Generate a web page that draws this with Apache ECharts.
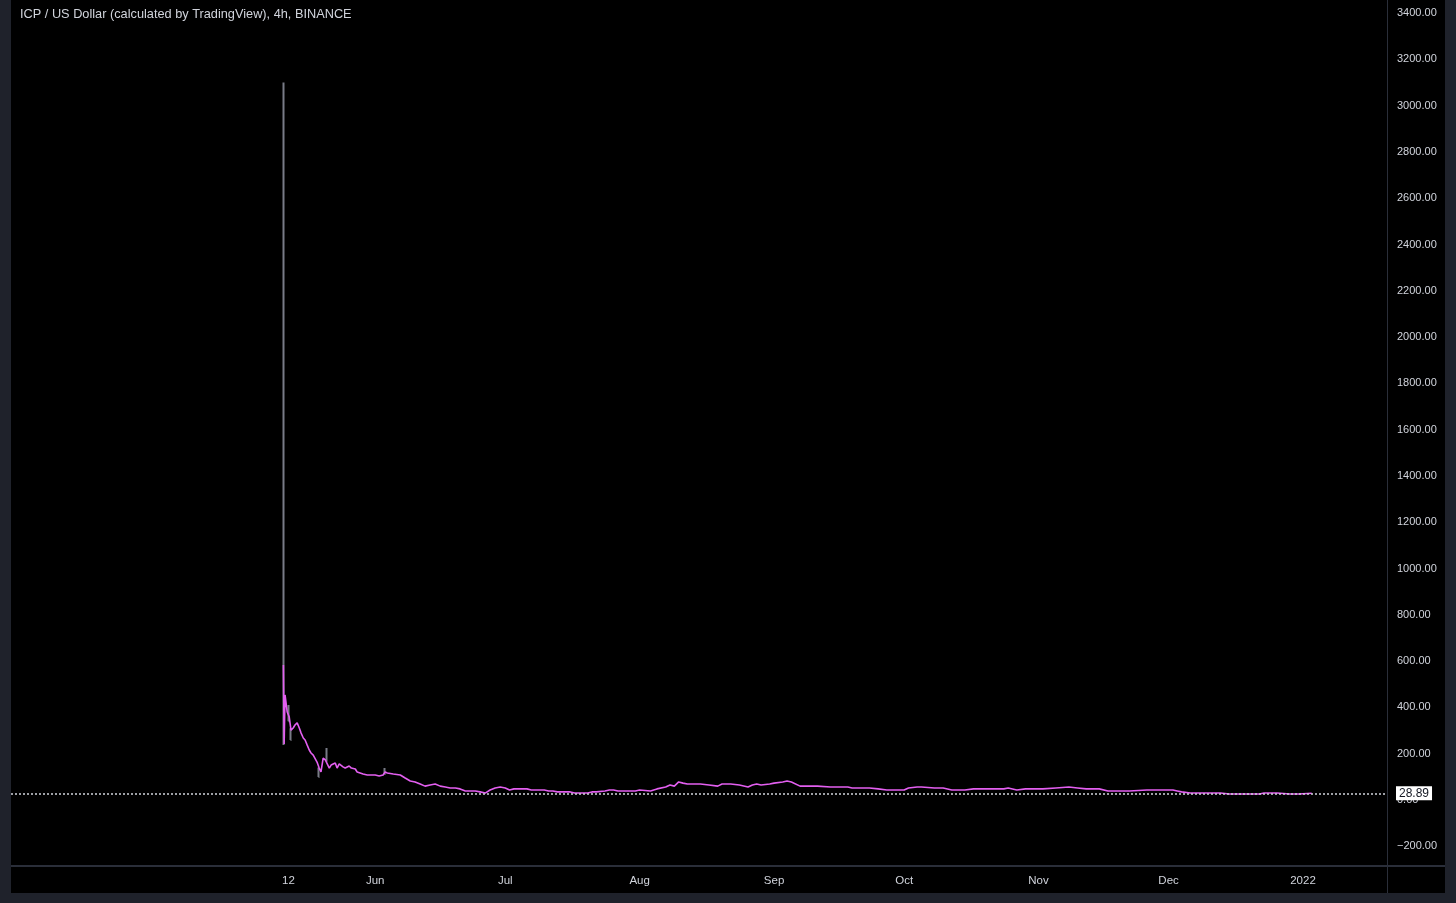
<!DOCTYPE html>
<html>
<head>
<meta charset="utf-8">
<script src="https://cdn.jsdelivr.net/npm/echarts@6/dist/echarts.min.js"></script>
<style>
  html, body { margin: 0; padding: 0; background: #1f222b; width: 1456px; height: 903px; overflow: hidden; }
  #chart { position: absolute; left: 11px; top: 0; width: 1434px; height: 893px; background: #000000; }
</style>
</head>
<body>
<div id="chart"></div>
<script>
// ---- Data ----
const titleText = 'ICP / US Dollar (calculated by TradingView), 4h, BINANCE';

const dates = [
  '2021-05-10 20:00','2021-05-11 00:00','2021-05-11 05:00','2021-05-11 17:00','2021-05-12 04:00','2021-05-12 14:00',
  '2021-05-13 02:00','2021-05-13 12:00','2021-05-14 00:00','2021-05-14 12:00','2021-05-14 22:00','2021-05-15 10:00',
  '2021-05-15 20:00','2021-05-16 07:00','2021-05-16 19:00','2021-05-17 05:00','2021-05-17 17:00','2021-05-18 04:00',
  '2021-05-18 14:00','2021-05-19 02:00','2021-05-19 12:00','2021-05-20 00:00','2021-05-20 12:00','2021-05-20 22:00',
  '2021-05-21 10:00','2021-05-21 20:00','2021-05-22 07:00','2021-05-22 19:00','2021-05-23 05:00','2021-05-23 17:00',
  '2021-05-24 04:00','2021-05-24 14:00','2021-05-25 02:00','2021-05-25 12:00','2021-05-26 00:00','2021-05-26 12:00',
  '2021-05-26 22:00','2021-05-27 10:00','2021-05-27 20:00','2021-05-28 07:00','2021-05-29 05:00','2021-05-30 04:00',
  '2021-05-31 02:00','2021-06-01 00:00','2021-06-01 22:00','2021-06-02 20:00','2021-06-03 07:00','2021-06-03 19:00',
  '2021-06-04 05:00','2021-06-05 04:00','2021-06-06 19:00','2021-06-07 22:00','2021-06-09 02:00','2021-06-10 05:00',
  '2021-06-11 09:00','2021-06-12 12:00','2021-06-13 16:00','2021-06-14 20:00','2021-06-16 00:00','2021-06-17 04:00',
  '2021-06-18 07:00','2021-06-19 12:00','2021-06-20 14:00','2021-06-21 19:00','2021-06-22 22:00','2021-06-24 02:00',
  '2021-06-25 05:00','2021-06-26 09:00','2021-06-27 12:00','2021-06-28 16:00','2021-06-29 20:00','2021-07-01 00:00',
  '2021-07-02','2021-07-03','2021-07-04','2021-07-05','2021-07-06','2021-07-07','2021-07-09','2021-07-10',
  '2021-07-11','2021-07-12','2021-07-13','2021-07-14','2021-07-16','2021-07-17','2021-07-18','2021-07-19',
  '2021-07-20','2021-07-21','2021-07-22','2021-07-24','2021-07-25','2021-07-26','2021-07-27','2021-07-28',
  '2021-07-29','2021-07-31','2021-08-01','2021-08-03 12:00','2021-08-05','2021-08-07','2021-08-08','2021-08-09',
  '2021-08-10','2021-08-11','2021-08-12','2021-08-15','2021-08-17','2021-08-19','2021-08-20','2021-08-22',
  '2021-08-24','2021-08-26','2021-08-27','2021-08-28','2021-08-29','2021-08-31','2021-09-01','2021-09-03',
  '2021-09-04','2021-09-05','2021-09-07','2021-09-08','2021-09-09','2021-09-11','2021-09-14','2021-09-16',
  '2021-09-18','2021-09-19','2021-09-20','2021-09-23','2021-09-25','2021-09-27','2021-09-29','2021-10-01',
  '2021-10-02','2021-10-04','2021-10-05','2021-10-08','2021-10-10','2021-10-12','2021-10-15','2021-10-17',
  '2021-10-19','2021-10-21','2021-10-24','2021-10-25','2021-10-27','2021-10-29','2021-11-02','2021-11-05',
  '2021-11-08','2021-11-10','2021-11-12','2021-11-15','2021-11-17','2021-11-22','2021-11-26','2021-11-29',
  '2021-12-02','2021-12-03','2021-12-04','2021-12-06','2021-12-08','2021-12-10','2021-12-13','2021-12-15',
  '2021-12-17','2021-12-19','2021-12-22','2021-12-23','2021-12-26','2021-12-29','2021-12-31','2022-01-03'
];

const closes = [
  583, 242, 454, 380, 359, 302,
  311, 324, 333, 311, 289, 268,
  259, 238, 216, 203, 194, 186,
  164, 138, 121, 181, 173, 181,
  138, 151, 143, 160, 138, 156,
  151, 143, 138, 143, 147, 138,
  138, 134, 121, 117, 112, 108,
  108, 108, 104, 108, 121, 117,
  112, 112, 108, 95, 82, 78,
  69, 60, 65, 69, 60, 56,
  52, 52, 48, 39, 39, 39,
  35, 30, 43, 52, 56, 52,
  43, 48, 48, 48, 48, 43, 43, 43,
  39, 39, 35, 35, 35, 30, 30, 30,
  30, 35, 35, 39, 43, 43, 39, 39,
  39, 39, 43, 39, 48, 56, 65, 60,
  78, 73, 69, 69, 65, 60, 69, 69,
  65, 56, 65, 69, 65, 69, 73, 78,
  82, 78, 60, 60, 60, 60, 56, 56,
  56, 52, 52, 52, 48, 43, 43, 43,
  52, 56, 56, 52, 52, 43, 43, 48,
  48, 48, 48, 52, 43, 48, 48, 52,
  56, 52, 48, 48, 39, 39, 43, 43,
  43, 39, 35, 30, 30, 30, 30, 26,
  26, 26, 26, 30, 30, 26, 26, 28.89
];

// grey high-low wicks visible behind the line
const wickDates = ['2021-05-10 20:00','2021-05-12 04:00','2021-05-12 14:00','2021-05-19 02:00','2021-05-20 22:00','2021-06-03 07:00'];
const wickLows  = [242, 340, 259,  99, 170, 112];
const wickHighs = [3100, 410, 310, 140, 225, 138];

const lastPrice = 28.89;

const xTickDates  = ['2021-05-12','2021-06-01','2021-07-01','2021-08-01','2021-09-01','2021-10-01','2021-11-01','2021-12-01','2022-01-01'];
const xTickLabels = ['12','Jun','Jul','Aug','Sep','Oct','Nov','Dec','2022'];
const yTicks = [-200,0,200,400,600,800,1000,1200,1400,1600,1800,2000,2200,2400,2600,2800,3000,3200,3400];

// ---- helpers ----
function ts(s) {
  const parts = s.split(' ');
  const d = parts[0].split('-').map(Number);
  const t = (parts[1] || '00:00').split(':').map(Number);
  return Date.UTC(d[0], d[1] - 1, d[2], t[0], t[1]);
}

const lineData = dates.map((d, i) => [ts(d), closes[i]]);
const wickData = wickDates.map((d, i) => [ts(d), wickLows[i], wickLows[i], wickLows[i], wickHighs[i]]);
const xTickTs = xTickDates.map(ts);

const chart = echarts.init(document.getElementById('chart'), null, { renderer: 'canvas' });

const fontFamily = 'Liberation Sans, Arial, sans-serif';
const textColor = '#d1d4dc';
const sepColor = '#2a2e39';

chart.setOption({
  backgroundColor: '#000000',
  animation: false,
  title: {
    text: titleText,
    left: 4,
    top: 3,
    textStyle: { color: textColor, fontSize: 12.75, fontWeight: 'normal', fontFamily: fontFamily }
  },
  grid: { left: 0, right: 58, top: 0, bottom: 28, containLabel: false },
  xAxis: {
    type: 'value',
    min: ts('2021-03-09'),
    max: ts('2022-01-20 09:00'),
    scale: true,
    axisLine: { show: false },
    axisTick: { show: false },
    splitLine: { show: false },
    axisLabel: {
      customValues: xTickTs,
      color: textColor,
      fontSize: 11.5,
      fontFamily: fontFamily,
      margin: 10,
      formatter: function (v) {
        const i = xTickTs.indexOf(v);
        return i >= 0 ? xTickLabels[i] : '';
      }
    }
  },
  yAxis: {
    type: 'value',
    position: 'right',
    min: -280.8,
    max: 3456.2,
    axisLine: { show: false },
    axisTick: { show: false },
    splitLine: { show: false },
    axisLabel: {
      customValues: yTicks,
      color: textColor,
      fontSize: 11,
      fontFamily: fontFamily,
      margin: 10,
      align: 'left',
      formatter: function (v) {
        return (v < 0 ? '\u2212' : '') + Math.abs(v).toFixed(2);
      }
    }
  },
  graphic: [
    { type: 'rect', shape: { x: 1376, y: 0, width: 1, height: 893 }, style: { fill: sepColor }, z: 100 },
    { type: 'rect', shape: { x: 0, y: 865, width: 1434, height: 2 }, style: { fill: sepColor }, z: 100 }
  ],
  series: [
    {
      type: 'candlestick',
      data: wickData,
      barWidth: 2,
      z: 1,
      itemStyle: { color: '#787b86', color0: '#787b86', borderColor: '#787b86', borderColor0: '#787b86', borderWidth: 2 }
    },
    {
      type: 'line',
      data: lineData,
      showSymbol: false,
      z: 3,
      lineStyle: { color: '#e35ff0', width: 1.6 },
      markLine: {
        silent: true,
        symbol: 'none',
        animation: false,
        lineStyle: { color: '#d1d4dc', type: [2, 2], width: 1.5 },
        label: {
          show: true,
          position: 'end',
          distance: 9,
          formatter: function (p) { return Number(p.value).toFixed(2); },
          backgroundColor: '#ffffff',
          color: '#131722',
          fontSize: 12,
          fontFamily: fontFamily,
          padding: [1, 3, 1, 3]
        },
        data: [{ yAxis: lastPrice }]
      }
    }
  ]
});
</script>
</body>
</html>
